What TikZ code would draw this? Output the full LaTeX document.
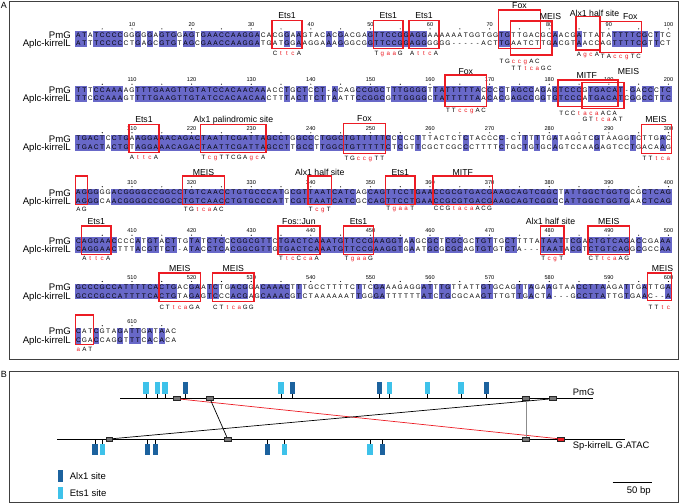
\documentclass[tikz,border=0pt]{standalone}
\usepackage{fontspec}
\setmainfont{Liberation Sans}
\usepackage{xstring}
\usetikzlibrary{positioning}

\definecolor{idblue}{RGB}{104,104,200}
\definecolor{tfred}{RGB}{236,28,36}
\definecolor{alxblue}{RGB}{28,98,158}
\definecolor{etsblue}{RGB}{62,194,234}
\definecolor{hspgrey}{RGB}{118,118,118}

\tikzset{
  seqchar/.style={inner sep=0pt, anchor=base, font=\fontsize{6.6bp}{7bp}\selectfont},
  seqname/.style={inner sep=0pt, anchor=base east, font=\fontsize{9.6bp}{10bp}\selectfont},
  colnum/.style={inner sep=0pt, anchor=base, font=\fontsize{5.6bp}{6bp}\selectfont},
  mutchar/.style={inner sep=0pt, anchor=base, font=\fontsize{6.2bp}{7bp}\selectfont},
  tfname/.style={inner sep=0pt, anchor=base, font=\fontsize{8.7bp}{9bp}\selectfont},
  sitebox/.style={draw=tfred, line width=1.5bp},
  panel/.style={draw=black!75, line width=0.8bp},
  panelname/.style={inner sep=0pt, anchor=base, font=\fontsize{9bp}{10bp}\selectfont},
  track/.style={line width=0.8bp},
  hsp/.style={draw=black!85, fill=hspgrey, minimum width=6.7bp, minimum height=4bp, inner sep=0pt, line width=0.5bp},
  hspline/.style={line width=0.7bp},
  keybar/.style={minimum width=5bp, minimum height=12bp, inner sep=0pt},
  legtext/.style={inner sep=0pt, font=\fontsize{9.5bp}{10bp}\selectfont},
  trackname/.style={inner sep=0pt, anchor=base west, font=\fontsize{9.4bp}{10bp}\selectfont}
}

% one block of the alignment: name, offset, y PmG, y Aplc, PmG, Aplc
\newcommand{\alnblock}[6]{%
  \StrLen{#5}[\seqlen]%
  \foreach \i in {1,...,\seqlen}{%
    \StrChar{#5}{\i}[\chP]\StrChar{#6}{\i}[\chA]%
    \ifx\chP\chA
      \fill[idblue] ({75.42+5.96*(\i-1)},#3-3.6) rectangle ++(6.06,#4-#3+7.2);
    \fi
  }
  \node[seqname] (pmg#1) at (71,#3+3.45) {PmG};
  \node[seqname] (aplc#1) at (71,#4+3.45) {Aplc-kirrelL};
  \foreach \i in {1,...,\seqlen}{%
    \StrChar{#5}{\i}[\chP]\StrChar{#6}{\i}[\chA]%
    \pgfmathtruncatemacro\cnum{#2+\i}%
    \pgfmathsetmacro\colX{78.4+5.96*(\i-1)}%
    \node[seqchar] (p\cnum) at (\colX,#3+2.35) {\chP};
    \node[seqchar] (a\cnum) at (\colX,#4+2.35) {\chA};
    \pgfmathtruncatemacro\tk{mod(\cnum,5)}%
    \ifnum\tk=0 \fill (\colX,#3-5.8) circle (0.6);\fi
    \pgfmathtruncatemacro\tk{mod(\cnum,10)}%
    \ifnum\tk=0 \node[colnum] (n\cnum) at (\colX,#3-8.3) {\cnum};\fi
  }%
}

% mutated site under a box: name, first column, y, letters (small ones in red)
\newcommand{\mutsite}[4]{%
  \StrLen{#4}[\mutlen]%
  \foreach \k in {1,...,\mutlen}{%
    \StrChar{#4}{\k}[\mutch]%
    \IfSubStr{acgt}{\mutch}{\def\mutcol{tfred}}{\def\mutcol{black}}%
    \node[mutchar, text=\mutcol] (#1-\k) at ({78.4+5.96*(#2+\k-2)},#3+2.2) {\mutch};
  }%
}

\newcommand{\tfbox}[4]{%
  \pgfmathsetmacro\bxl{75.42+5.96*(#1-1)}%
  \pgfmathsetmacro\bxr{81.38+5.96*(#2-1)}%
  \draw[sitebox, tfred] (\bxl,#3) rectangle (\bxr,#4);%
}

\newcommand{\tflabel}[4]{%
  \pgfmathsetmacro\lbx{78.4+5.96*(#2-1)}%
  \node[tfname] (#1) at (\lbx,#3) {#4};%
}

\begin{document}
\begin{tikzpicture}[x=1bp, y=-1bp]
\useasboundingbox (0,0) rectangle (680,504);

% panel A
\draw[panel] (9,1.5) rectangle (678,359);
\node[panelname] (labA) at (3.8,8.5) {A};

\alnblock{1}{0}{34.7}{43}%
{ATATCCCCGGGGGAGTGGAGTGAACCAAGGACACGGAAGTACACGACGAGTTCCGGAGGAAAAAATGGTGGTGTTGACGCAACGATTATATTTTCGCTTC}%
{ATTTCCCCCTGAGCGTGTAGCGAACCAAGGATGATGGAAGGAAAGGGCGGTTCCGGAGGGGGG-----ACTTGAATCTTGACGTAACCAGTTTTCGTTCT}
\alnblock{2}{100}{90}{98.5}%
{TTTCCAAAAGTTTGAAGTTGTATCCACAACAAACCTGCTCCT-ACAGCCGGCTTTGGGGTTATTTTTACCCCTAGCCAGAGTCCCGTGACAT-GACCCTC}%
{TTCCCAAAGTTTTGAAGTTGTATCCACAACAACTTTACTTCTTAATTCCGGCGTTGGGGCTATTTTTAACACGAGCCGGTGTCCCATGACATCGGCCTTC}
\alnblock{3}{200}{138.6}{147.2}%
{TGACTCCTGAAGGAAACAGACTAATTCGATTAGCCTGGCCCTGGCTGTTTTTCCCCCTTTACTCTCTACCCC-CTTTTTGATAGGTCGTAAGGTCTTGAC}%
{TGACTACTGTAGGAAACAGACTAATTCGATTAGCCTTGCCTTGGCTGTTTTTCTCGTTCGCTCGCCCTTTTCTGCTGTGCAGTCCAAGAGTCCTGACAAG}
\alnblock{4}{300}{192.6}{201.1}%
{AGGGGGACGGGGCCGGCCTGTCAACCTGTGCCCATGCGTTAATCATCAGCAGTTCCTGAACCGCGTGACGAAGCAGTCGGCTATTGGCTGGTGCGCTCAG}%
{AGGGCAACGGGGCCGGCCTGTCAACCTGTGCCCATTCGTTAATCATCGCCAGTTCCTGAACCGCGTGACGAAGCAGTCGGCCATTGGCTGGTGAACTCAG}
\alnblock{5}{400}{241}{249.4}%
{CAGGAACCCCATGTACTTGTATCTCCCGGCGTTCTGACTCAAATGTTCCGAAGGTAAGCGCTCGCGCTGTTGCTTTTATAATTCGACTGTCAGACCGAAA}%
{CAGGAACTTTACGTTCT-ATACCTCACGGCGTTGTGACTCAAATGTTCCGAAGGTGAATGCGCGCAGTGTGTCTA---TAATACGTCTGTCAGGCGCCAA}
\alnblock{6}{500}{287.3}{295.7}%
{GCCCGCCATTTTCACTGACGAATCTGACGGACAAACTTTGCCTTTTCTTCGAAAGAGGATTTGTTATTGTGCAGTTAGAAGTAACCTTAAGATTGATTGA}%
{GCCCGCCATTTTCACTGTAGAGTCCCACGAGCAAACGTCTAAAAAATTGGGATTTTTTATCTGCGCAAGTTTGTTGACTA---GCCTTATTGTGAAC--A}
\alnblock{7}{600}{331.5}{340}{CATCGTAGATTGATAAC}{CGACCAGGTTTCACACA}

% boxes, row 1
\tfbox{34}{38}{20.7}{48.3}
\tfbox{51}{55}{20.7}{48.3}
\tfbox{57}{61}{20.7}{48.3}
\tfbox{72}{78}{10}{48.3}
\tfbox{74}{80}{21}{55}
\tfbox{85}{88}{16.7}{50}
\tfbox{89}{95}{21.7}{52.3}
\tflabel{ets1a}{36}{18.8}{Ets1}
\tflabel{ets1b}{53}{18.8}{Ets1}
\tflabel{ets1c}{59}{18.8}{Ets1}
\tflabel{foxa}{75}{8.1}{Fox}
\tflabel{meisa}{80.2}{19.1}{MEIS}
\tflabel{alxa}{87.6}{16.4}{Alx1 half site}
\tflabel{foxb}{93.6}{19.1}{Fox}
\mutsite{m1a}{34}{53.3}{CttcA}
\mutsite{m1b}{51}{53.3}{TgaaG}
\mutsite{m1c}{57}{53.3}{AttcA}
\mutsite{m1d}{72}{61.7}{TGccgAC}
\mutsite{m1e}{74}{68.3}{TTtcaGC}
\mutsite{m1f}{85}{54.3}{AgcA}
\mutsite{m1g}{89}{56.7}{TAccgTC}

% row 2
\tfbox{63}{69}{75}{106.7}
\tfbox{82}{91}{80}{106.7}
\tfbox{86}{92}{82.7}{108.3}
\tflabel{foxc}{66}{74.1}{Fox}
\tflabel{mitfa}{86.3}{78.1}{MITF}
\tflabel{meisb}{93.3}{74.1}{MEIS}
\mutsite{m2a}{63}{110}{TTccgAC}
\mutsite{m2b}{82}{113.3}{TCCtacaACA}
\mutsite{m2c}{86}{119.3}{GTtcaAT}

% row 3
\tfbox{10}{14}{124.6}{152.6}
\tfbox{22}{32}{124.6}{152.6}
\tfbox{46}{52}{123.6}{153.6}
\tfbox{96}{100}{124.3}{153.3}
\tflabel{ets1d}{12}{122.4}{Ets1}
\tflabel{alxb}{27}{122.4}{Alx1 palindromic site}
\tflabel{foxd}{49}{121.7}{Fox}
\tflabel{meisc}{97.9}{122.4}{MEIS}
\mutsite{m3a}{10}{157}{AttcA}
\mutsite{m3b}{22}{157}{TcgTTCGAgcA}
\mutsite{m3c}{46}{158.6}{TGccgTT}
\mutsite{m3d}{96}{158.6}{TTtca}

% row 4
\tfbox{1}{2}{176}{204.5}
\tfbox{19}{25}{176}{204.5}
\tfbox{40}{43}{176}{204.5}
\tfbox{53}{57}{176}{204.5}
\tfbox{61}{70}{176}{204.5}
\tflabel{meisd}{22}{175.1}{MEIS}
\tflabel{alxc}{41.5}{175.1}{Alx1 half site}
\tflabel{ets1e}{55}{175.1}{Ets1}
\tflabel{mitfb}{65.5}{175.1}{MITF}
\mutsite{m4a}{1}{209.5}{AG}
\mutsite{m4b}{19}{209.5}{TGtcaAC}
\mutsite{m4c}{40}{209.5}{TcgT}
\mutsite{m4d}{53}{208.7}{TgaaT}
\mutsite{m4e}{61}{208.7}{CCGtacaACG}

% row 5
\tfbox{2}{6}{226}{254.4}
\tfbox{35}{41}{226}{254.4}
\tfbox{46}{50}{226}{254.4}
\tfbox{79}{82}{226}{254.4}
\tfbox{87}{93}{226}{254.4}
\tflabel{ets1f}{4}{224.1}{Ets1}
\tflabel{fosjun}{38}{224.1}{Fos::Jun}
\tflabel{ets1g}{48}{224.1}{Ets1}
\tflabel{alxd}{80.2}{224.1}{Alx1 half site}
\tflabel{meise}{90}{224.1}{MEIS}
\mutsite{m5a}{2}{258.6}{AttcA}
\mutsite{m5b}{35}{258.6}{TtcCcaA}
\mutsite{m5c}{46}{258.6}{TgaaG}
\mutsite{m5d}{79}{258.6}{TcgT}
\mutsite{m5e}{87}{258.6}{CTtcaAG}

% row 6 and 7
\tfbox{15}{21}{273}{301.3}
\tfbox{24}{30}{273}{301.3}
\tfbox{97}{100}{273}{300.6}
\tfbox{1}{3}{315}{344.5}
\tflabel{meisf}{18}{271.1}{MEIS}
\tflabel{meisg}{27}{271.1}{MEIS}
\tflabel{meish}{99}{271.1}{MEIS}
\mutsite{m6a}{15}{307.3}{CTtcaGA}
\mutsite{m6b}{24}{307.3}{CTtcaGG}
\mutsite{m6c}{97}{307.3}{TTtc}
\mutsite{m7a}{1}{349.5}{aAT}

% panel B
\draw[panel] (9,371) rectangle (678,502.5);
\node[panelname] (labB) at (3.8,377) {B};
\draw[track] (120,398.7) -- (593.3,398.7);
\draw[track] (57,439) -- (625,439);
\node[trackname] (pmgB) at (572.7,395.2) {PmG};
\node[trackname] (spB) at (572.7,448.4) {Sp-kirrelL G.ATAC};

\foreach \x/\c in {146/etsblue,157.5/etsblue,165/etsblue,185.5/alxblue,281/etsblue,292.3/alxblue,
                   379.3/alxblue,389.3/etsblue,427.3/etsblue,461/etsblue,486.7/alxblue}{
  \draw[line width=0.6bp] (\x,393.7) -- (\x,398.7);
  \fill[\c] (\x-2.6,382) rectangle (\x+2.6,393.7);
}
\foreach \x/\c in {95/alxblue,102.3/etsblue,147.7/alxblue,155.2/alxblue,267.7/alxblue,284.3/etsblue,
                   370/etsblue,382.7/alxblue}{
  \draw[line width=0.6bp] (\x,439) -- (\x,443.5);
  \fill[\c] (\x-2.6,443.5) rectangle (\x+2.6,455.3);
}

\node[hsp] (t1) at (176.5,398.7) {};
\node[hsp] (t2) at (210,398.7) {};
\node[hsp] (t3) at (526,398.7) {};
\node[hsp] (t4) at (552.7,398.7) {};
\node[hsp] (b1) at (109.3,439) {};
\node[hsp] (b2) at (227.7,439) {};
\node[hsp] (b3) at (526,439) {};
\node[hsp, fill=tfred] (b4) at (561,439) {};
\draw[hspline, tfred] (t1) -- (b4);
\draw[hspline] (t2) -- (b2);
\draw[hspline] (b1) -- (t4);
\draw[hspline, black!45, line width=0.9bp] (t3) -- (b3);

\node[keybar, fill=alxblue] (alxkey) at (60,475.7) {};
\node[keybar, fill=etsblue] (etskey) at (60,492.8) {};
\node[legtext, right=7bp of alxkey] (alxtxt) {Alx1 site};
\node[legtext, right=7bp of etskey] (etstxt) {Ets1 site};

\coordinate (sb1) at (612.7,482.3);
\coordinate (sb2) at (651.7,482.3);
\draw[line width=1.2bp] (sb1) -- (sb2);
\node[legtext, anchor=base] (sbtxt) at (638.7,493) {50 bp};
\end{tikzpicture}
\end{document}
